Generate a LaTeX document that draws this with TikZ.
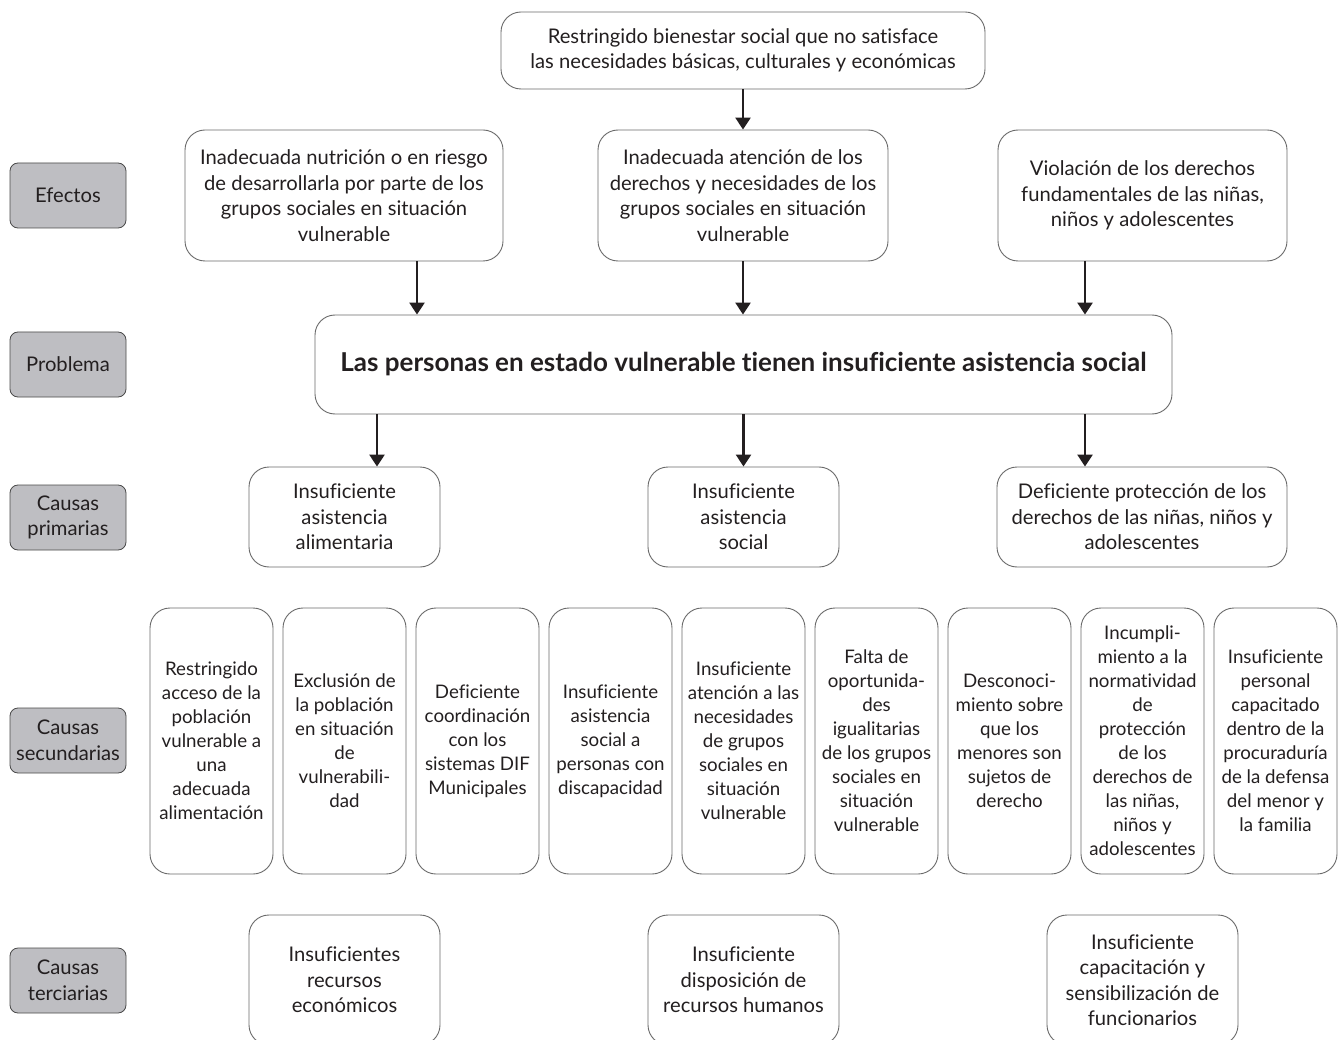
\documentclass[tikz,border=0pt]{standalone}
\usepackage{fontspec}
\setmainfont{Lato}[Ligatures=NoCommon]
\usetikzlibrary{arrows.meta}
\definecolor{boxline}{HTML}{6A6A6A}
\definecolor{labfill}{HTML}{BEBEC2}
\definecolor{labline}{HTML}{4A4A4A}
\definecolor{txt}{HTML}{231F20}
\tikzset{
  box/.style={draw=boxline, line width=0.9pt, rounded corners=20pt, align=center, inner sep=0pt, text=txt, font=\fontsize{20.2}{25.5}\selectfont},
  sbox/.style={box, minimum width=123pt, minimum height=266pt, font=\fontsize{18.7}{24}\selectfont},
  lab/.style={draw=labline, fill=labfill, line width=0.8pt, rounded corners=8pt, align=center, inner sep=0pt, text=txt, minimum width=116pt, minimum height=65pt, font=\fontsize{20.2}{25.5}\selectfont},
  arr/.style={line width=2.6pt, draw=txt, -{Triangle[width=15pt,length=12pt]}}
}
\begin{document}
\begin{tikzpicture}[x=1pt,y=-1pt]
\clip (0,0) rectangle (1338,1040);
\fill[white] (0,0) rectangle (1338,1040);
% labels
\node[lab] (l1) at (68,195.5) {Efectos};
\node[lab] (l2) at (68,364.5) {Problema};
\node[lab] (l3) at (68,517.5) {Causas\\primarias};
\node[lab] (l4) at (68,740.5) {Causas\\secundarias};
\node[lab] (l5) at (68,980.5) {Causas\\terciarias};
% top
\node[box, minimum width=484pt, minimum height=77pt] (top) at (743,50.5) {Restringido bienestar social que no satisface\\las necesidades básicas, culturales y económicas};
% effects
\node[box, minimum width=318pt, minimum height=131pt] (e1) at (344,195.5) {Inadecuada nutrición o en riesgo\\de desarrollarla por parte de los\\grupos sociales en situación\\vulnerable};
\node[box, minimum width=290pt, minimum height=131pt] (e2) at (743,195.5) {Inadecuada atención de los\\derechos y necesidades de los\\grupos sociales en situación\\vulnerable};
\node[box, minimum width=289pt, minimum height=131pt] (e3) at (1142.5,195.5) {Violación de los derechos\\fundamentales de las niñas,\\niños y adolescentes};
% problem
\node[box, minimum width=857pt, minimum height=99pt, font=\fontsize{26}{30}\selectfont\bfseries] (prob) at (743.5,364.5) {Las personas en estado vulnerable tienen insuficiente asistencia social};
% primary
\node[box, minimum width=191pt, minimum height=100pt] (p1) at (344.5,517) {Insuficiente\\asistencia\\alimentaria};
\node[box, minimum width=191pt, minimum height=100pt] (p2) at (743.5,517) {Insuficiente\\asistencia\\social};
\node[box, minimum width=290pt, minimum height=100pt] (p3) at (1142,517) {Deficiente protección de los\\derechos de las niñas, niños y\\adolescentes};
% secondary
\node[sbox] (s1) at (211.5,741) {Restringido\\acceso de la\\población\\vulnerable a\\una\\adecuada\\alimentación};
\node[sbox] (s2) at (344.5,741) {Exclusión de\\la población\\en situación\\de\\vulnerabili-\\dad};
\node[sbox] (s3) at (477.5,741) {Deficiente\\coordinación\\con los\\sistemas DIF\\Municipales};
\node[sbox] (s4) at (610.5,741) {Insuficiente\\asistencia\\social a\\personas con\\discapacidad};
\node[sbox] (s5) at (743.5,741) {Insuficiente\\atención a las\\necesidades\\de grupos\\sociales en\\situación\\vulnerable};
\node[sbox] (s6) at (876.5,741) {Falta de\\oportunida-\\des\\igualitarias\\de los grupos\\sociales en\\situación\\vulnerable};
\node[sbox] (s7) at (1009.5,741) {Desconoci-\\miento sobre\\que los\\menores son\\sujetos de\\derecho};
\node[sbox] (s8) at (1142.5,741) {Incumpli-\\miento a la\\normatividad\\de\\protección\\de los\\derechos de\\las niñas,\\niños y\\adolescentes};
\node[sbox] (s9) at (1275.5,741) {Insuficiente\\personal\\capacitado\\dentro de la\\procuraduría\\de la defensa\\del menor y\\la familia};
% tertiary
\node[box, minimum width=191pt, minimum height=130pt] (t1) at (344.5,980) {Insuficientes\\recursos\\económicos};
\node[box, minimum width=191pt, minimum height=130pt] (t2) at (743.5,980) {Insuficiente\\disposición de\\recursos humanos};
\node[box, minimum width=191pt, minimum height=130pt] (t3) at (1142.5,980) {Insuficiente\\capacitación y\\sensibilización de\\funcionarios};
% arrows
\draw[arr] (top.south) -- (e2.north);
\draw[arr] (e1.south -| 417,0) -- (prob.north -| 417,0);
\draw[arr] (e2.south) -- (prob.north -| e2.south);
\draw[arr] (e3.south -| 1085,0) -- (prob.north -| 1085,0);
\draw[arr] (prob.south -| 377,0) -- (p1.north -| 377,0);
\draw[arr] (prob.south -| p2.north) -- (p2.north);
\draw[arr] (prob.south -| 1085,0) -- (p3.north -| 1085,0);
\end{tikzpicture}
\end{document}
